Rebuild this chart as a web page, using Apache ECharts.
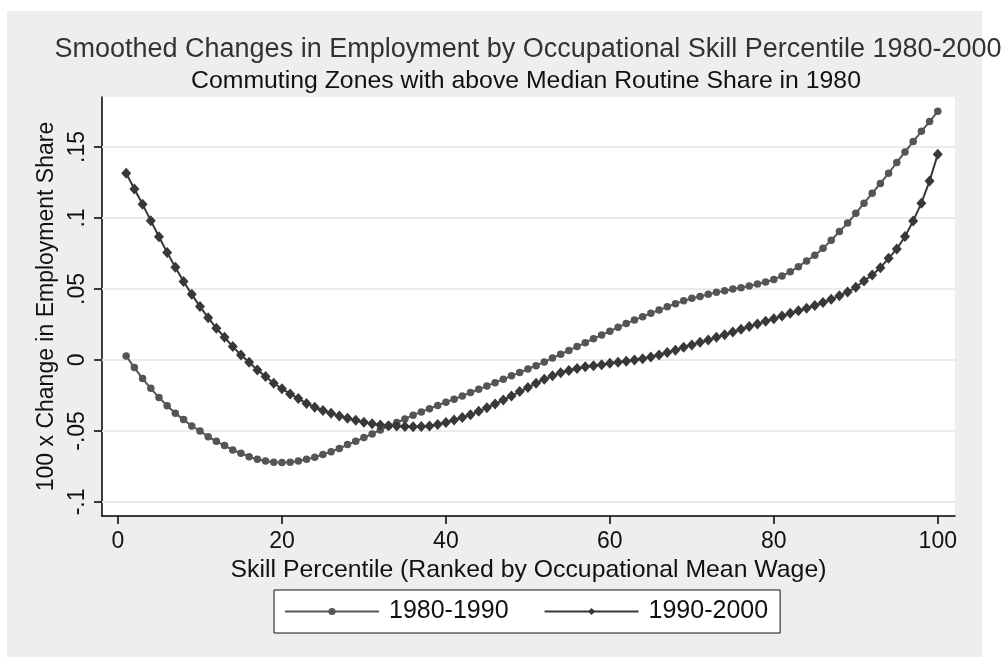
<!DOCTYPE html>
<html>
<head>
<meta charset="utf-8">
<script src="https://cdn.jsdelivr.net/npm/echarts@6/dist/echarts.min.js"></script>
<style>
  html, body { margin: 0; padding: 0; background: #fff; }
  #chart { width: 1004px; height: 657px; }
</style>
</head>
<body>
<div id="chart"></div>
<script>
// skill percentile (x)
var pct = [1,2,3,4,5,6,7,8,9,10,11,12,13,14,15,16,17,18,19,20,
  21,22,23,24,25,26,27,28,29,30,31,32,33,34,35,36,37,38,39,40,
  41,42,43,44,45,46,47,48,49,50,51,52,53,54,55,56,57,58,59,60,
  61,62,63,64,65,66,67,68,69,70,71,72,73,74,75,76,77,78,79,80,
  81,82,83,84,85,86,87,88,89,90,91,92,93,94,95,96,97,98,99,100]

// 1980-1990
var chg8090 = [0.0028,-0.0054,-0.0131,-0.0200,-0.0265,-0.0322,-0.0376,-0.0420,-0.0465,-0.0500,
  -0.0540,-0.0573,-0.0603,-0.0634,-0.0657,-0.0681,-0.0700,-0.0711,-0.0721,-0.0722,
  -0.0721,-0.0711,-0.0700,-0.0686,-0.0665,-0.0646,-0.0624,-0.0596,-0.0573,-0.0547,
  -0.0521,-0.0493,-0.0465,-0.0441,-0.0415,-0.0389,-0.0366,-0.0343,-0.0320,-0.0297,
  -0.0276,-0.0254,-0.0230,-0.0207,-0.0183,-0.0160,-0.0135,-0.0112,-0.0089,-0.0064,
  -0.0040,-0.0014,0.0013,0.0040,0.0067,0.0094,0.0122,0.0150,0.0176,0.0203,
  0.0230,0.0256,0.0281,0.0305,0.0329,0.0351,0.0374,0.0396,0.0417,0.0434,
  0.0447,0.0462,0.0476,0.0488,0.0499,0.0509,0.0521,0.0535,0.0549,0.0567,
  0.0592,0.0621,0.0657,0.0697,0.0738,0.0786,0.0843,0.0904,0.0964,0.1033,
  0.1104,0.1174,0.1243,0.1315,0.1391,0.1465,0.1538,0.1610,0.1679,0.1751]

// 1990-2000
var chg9000 = [0.1315,0.1204,0.1096,0.0981,0.0868,0.0756,0.0653,0.0552,0.0462,0.0376,
  0.0298,0.0223,0.0160,0.0094,0.0035,-0.0016,-0.0070,-0.0117,-0.0164,-0.0202,
  -0.0239,-0.0272,-0.0306,-0.0333,-0.0356,-0.0376,-0.0394,-0.0411,-0.0424,-0.0438,
  -0.0449,-0.0458,-0.0464,-0.0466,-0.0469,-0.0470,-0.0469,-0.0465,-0.0454,-0.0440,
  -0.0423,-0.0406,-0.0386,-0.0362,-0.0336,-0.0310,-0.0282,-0.0253,-0.0223,-0.0194,
  -0.0164,-0.0136,-0.0111,-0.0090,-0.0075,-0.0061,-0.0048,-0.0040,-0.0033,-0.0024,
  -0.0016,-0.0009,0.0000,0.0009,0.0021,0.0035,0.0052,0.0069,0.0089,0.0106,
  0.0124,0.0141,0.0160,0.0178,0.0197,0.0216,0.0235,0.0254,0.0272,0.0291,
  0.0310,0.0329,0.0347,0.0364,0.0383,0.0404,0.0427,0.0453,0.0479,0.0512,
  0.0556,0.0599,0.0650,0.0716,0.0782,0.0869,0.0979,0.1104,0.1261,0.1449]

var xTicks = [0, 20, 40, 60, 80, 100]
var yTicks = [-0.1, -0.05, 0, 0.05, 0.1, 0.15]
var yTickText = ['-.1', '-.05', '0', '.05', '.1', '.15']

var font = 'Liberation Sans, Arial, sans-serif'

function pairs(ys) {
    return pct.map(function (x, i) { return [x, ys[i]] })
}

var myChart = echarts.init(document.getElementById('chart'), null, { renderer: 'canvas' })

var option = {
    backgroundColor: '#ffffff',
    animation: false,
    graphic: [
        { type: 'rect', z: -100, shape: { x: 7, y: 11, width: 975, height: 646 }, style: { fill: '#eeeeee' } }
    ],
    title: [
        {
            text: 'Smoothed Changes in Employment by Occupational Skill Percentile 1980-2000',
            left: 528, top: 36, textAlign: 'center', padding: 0,
            textStyle: { fontFamily: font, fontSize: 27, fontWeight: 'normal', color: '#333333' }
        },
        {
            text: 'Commuting Zones with above Median Routine Share in 1980',
            left: 526, top: 69, textAlign: 'center', padding: 0,
            textStyle: { fontFamily: font, fontSize: 24.8, fontWeight: 'normal', color: '#111111' }
        }
    ],
    grid: {
        left: 102, right: 49, top: 97, bottom: 141,
        show: true, backgroundColor: '#ffffff', borderWidth: 0
    },
    legend: {
        data: ['1980-1990', '1990-2000'],
        left: 274, top: 590,
        padding: [9, 12, 9, 10],
        itemGap: 35,
        itemWidth: 94, itemHeight: 9,
        backgroundColor: '#ffffff',
        borderColor: '#111111', borderWidth: 1,
        textStyle: { fontFamily: font, fontSize: 25, color: '#111111', padding: [0, 0, 0, 5] }
    },
    xAxis: {
        type: 'value',
        min: -1.95, max: 102.1,
        name: 'Skill Percentile (Ranked by Occupational Mean Wage)',
        nameLocation: 'middle', nameGap: 35,
        nameTextStyle: { fontFamily: font, fontSize: 24.8, color: '#111111' },
        axisLine: { show: true, onZero: false, lineStyle: { color: '#000000', width: 1.5 } },
        axisTick: { show: true, length: 8, customValues: xTicks, lineStyle: { color: '#000000', width: 1.5 } },
        axisLabel: { customValues: xTicks, margin: 14, fontFamily: font, fontSize: 23, color: '#111111' },
        splitLine: { show: false }
    },
    yAxis: {
        type: 'value',
        min: -0.1099, max: 0.1852,
        name: '100 x Change in Employment Share',
        nameLocation: 'middle', nameGap: 42, nameRotate: 90,
        nameTextStyle: { fontFamily: font, fontSize: 23, color: '#111111' },
        axisLine: { show: true, onZero: false, lineStyle: { color: '#000000', width: 1.5 } },
        axisTick: { show: true, length: 8, customValues: yTicks, lineStyle: { color: '#000000', width: 1.5 } },
        axisLabel: {
            customValues: yTicks, rotate: 90, margin: 13,
            fontFamily: font, fontSize: 23, color: '#111111',
            formatter: function (v) {
                var i = yTicks.findIndex(function (t) { return Math.abs(t - v) < 1e-9 })
                return i >= 0 ? yTickText[i] : ''
            }
        },
        splitLine: { show: false }
    },
    series: [
        {
            // grid lines, kept under the two curves
            name: 'grid',
            type: 'line',
            data: [],
            z: 1,
            silent: true,
            markLine: {
                z: 1,
                silent: true,
                symbol: ['none', 'none'],
                label: { show: false },
                lineStyle: { color: '#ebebeb', width: 2, type: 'solid' },
                data: yTicks.map(function (v) { return { yAxis: v } })
            }
        },
        {
            name: '1980-1990',
            type: 'line',
            data: pairs(chg8090),
            symbol: 'circle',
            symbolSize: 7.5,
            showAllSymbol: true,
            z: 3,
            lineStyle: { color: '#555555', width: 2 },
            itemStyle: { color: '#555555' }
        },
        {
            name: '1990-2000',
            type: 'line',
            data: pairs(chg9000),
            symbol: 'diamond',
            symbolSize: [10, 11],
            showAllSymbol: true,
            z: 4,
            lineStyle: { color: '#383838', width: 2 },
            itemStyle: { color: '#383838' }
        }
    ]
}

myChart.setOption(option)
</script>
</body>
</html>
